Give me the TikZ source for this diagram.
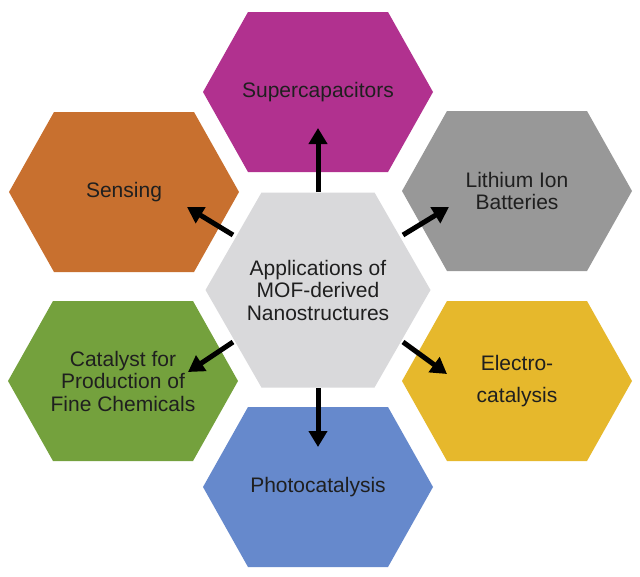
\documentclass[tikz,border=0pt]{standalone}
\usepackage{fontspec}
\setmainfont{Liberation Sans}
\usetikzlibrary{arrows.meta}
\definecolor{cMag}{HTML}{B1318F}
\definecolor{cOra}{HTML}{C8702F}
\definecolor{cGry}{HTML}{989898}
\definecolor{cCen}{HTML}{D9D9DB}
\definecolor{cGrn}{HTML}{74A13D}
\definecolor{cYel}{HTML}{E6B82C}
\definecolor{cBlu}{HTML}{6689CC}
\tikzset{
  hextext/.style={align=center, text=black!88, font=\fontsize{21}{22.5}\selectfont, inner sep=0pt},
  arr/.style={line width=5pt, draw=black, -{Triangle[length=16pt,width=18pt]}}
}
% #1 name, #2 x, #3 y, #4 half width, #5 half height, #6 inset, #7 colour, #8 text
\newcommand\hexcell[8]{%
  \begin{scope}[shift={(#2,#3)}]
    \fill[#7] (-#4,0) -- ({-#4+#6},-#5) -- ({#4-#6},-#5) -- (#4,0) -- ({#4-#6},#5) -- ({-#4+#6},#5) -- cycle;
  \end{scope}
  \node[hextext] (#1) at (#2,#3) {#8};
}
\begin{document}
\begin{tikzpicture}[x=1pt,y=-1pt]
\useasboundingbox[fill=white] (0,0) rectangle (640,576);
\hexcell{sup}{318}{92}{115}{80}{45}{cMag}{Supercapacitors}
\hexcell{sen}{124}{192}{115}{80}{45}{cOra}{Sensing}
\hexcell{lib}{517}{191}{115}{80}{45}{cGry}{Lithium Ion\\Batteries}
\hexcell{cen}{318}{290}{112.5}{97.5}{56}{cCen}{Applications of\\MOF-derived\\Nanostructures}
\hexcell{cat}{123}{381}{115}{80}{45}{cGrn}{Catalyst for\\Production of\\Fine Chemicals}
\hexcell{ele}{517}{381}{115}{80}{45}{cYel}{Electro-\\[9pt]catalysis}
\hexcell{pho}{318}{487}{115}{80}{45}{cBlu}{Photocatalysis}
% arrow end points
\coordinate (uT) at (318,192); \coordinate (uH) at (318,128);
\coordinate (dT) at (318,388); \coordinate (dH) at (318,447);
\coordinate (ulT) at (233,235); \coordinate (ulH) at (187,207);
\coordinate (urT) at (403,235); \coordinate (urH) at (449,207);
\coordinate (dlT) at (233,342); \coordinate (dlH) at (188,372);
\coordinate (drT) at (403,342); \coordinate (drH) at (447,374);
\draw[arr] (uT) -- (uH);
\draw[arr] (dT) -- (dH);
\draw[arr] (ulT) -- (ulH);
\draw[arr] (urT) -- (urH);
\draw[arr] (dlT) -- (dlH);
\draw[arr] (drT) -- (drH);
\end{tikzpicture}
\end{document}
